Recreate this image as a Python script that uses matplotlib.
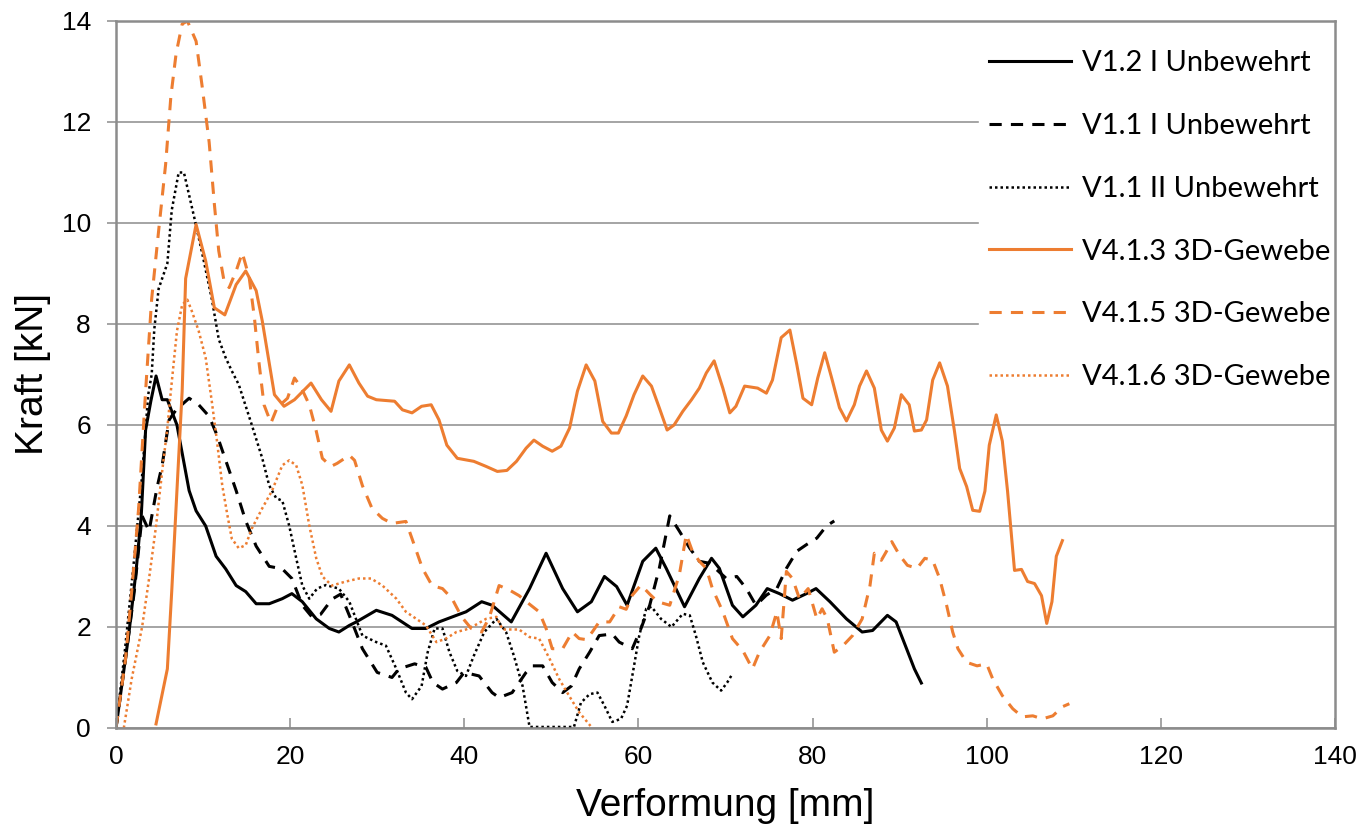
import matplotlib
matplotlib.use("Agg")
import matplotlib.pyplot as plt

# V1.2 I Unbewehrt (schwarz, durchgezogen)
v12_x = [0, 1.5, 2.3, 2.9, 3.4, 4.0, 4.6, 5.3, 5.9, 7.0, 8.4, 9.2, 10.3, 11.5, 12.6, 13.8, 14.9, 16.1,
         17.6, 19.1, 20.2, 21.4, 23.0, 24.5, 25.6, 26.8, 27.6, 29.9, 31.7, 34.0, 35.6, 37.1, 39.1, 40.2,
         42.0, 43.2, 45.4, 47.5, 49.4, 51.3, 53.0, 54.6, 56.1, 57.5, 58.7, 60.5, 62.0, 63.2, 65.3, 67.0,
         68.4, 69.3, 70.8, 72.0, 73.5, 74.8, 76.2, 77.7, 79.3, 80.4, 82.0, 83.9, 85.7, 86.9, 88.6, 89.6,
         90.8, 91.7, 92.5]
v12_y = [0, 1.9, 3.1, 4.2, 5.9, 6.47, 6.97, 6.5, 6.5, 6.0, 4.7, 4.3, 4.0, 3.4, 3.15, 2.82, 2.7, 2.46,
         2.46, 2.56, 2.66, 2.5, 2.16, 1.97, 1.9, 2.03, 2.1, 2.33, 2.23, 1.97, 1.97, 2.1, 2.23, 2.3,
         2.5, 2.43, 2.1, 2.76, 3.46, 2.76, 2.3, 2.5, 3.0, 2.8, 2.43, 3.3, 3.56, 3.16, 2.4, 2.96,
         3.36, 3.16, 2.43, 2.2, 2.43, 2.76, 2.66, 2.53, 2.66, 2.76, 2.5, 2.16, 1.9, 1.93, 2.23, 2.1,
         1.57, 1.17, 0.89]

# V1.1 I Unbewehrt (schwarz, gestrichelt)
v11_x = [0, 1.1, 2.1, 3.0, 3.8, 4.7, 5.3, 6.1, 6.9, 8.4, 9.5, 10.7, 11.6, 12.4, 13.8, 14.9, 16.1, 17.6,
         19.1, 20.2, 21.4, 22.5, 23.5, 24.8, 25.8, 27.1, 28.3, 30.0, 31.7, 32.5, 34.3, 35.6, 36.4, 37.5,
         39.1, 40.0, 41.7, 43.2, 44.0, 45.5, 47.1, 47.8, 49.0, 50.1, 51.3, 52.3, 53.2, 54.4, 55.5, 57.0,
         57.8, 59.3, 60.3, 61.3, 62.4, 63.6, 64.7, 65.9, 67.0, 68.2, 70.1, 71.3, 72.4, 73.5, 74.7, 75.9,
         77.0, 78.2, 79.3, 80.5, 81.6, 82.5]
v11_y = [0, 1.37, 2.7, 4.2, 3.9, 4.75, 5.2, 6.1, 6.3, 6.53, 6.4, 6.17, 5.8, 5.4, 4.7, 4.1, 3.6, 3.2,
         3.15, 2.96, 2.43, 2.2, 2.25, 2.55, 2.65, 2.1, 1.57, 1.1, 1.0, 1.17, 1.27, 1.2, 0.9, 0.77,
         0.9, 1.1, 1.03, 0.7, 0.6, 0.7, 1.1, 1.23, 1.23, 0.9, 0.7, 0.83, 1.17, 1.5, 1.83, 1.86,
         1.7, 1.57, 1.97, 2.43, 3.16, 4.2, 3.9, 3.56, 3.3, 3.26, 2.96, 3.0, 2.76, 2.43, 2.63, 2.76,
         3.16, 3.5, 3.63, 3.76, 4.0, 4.1]

# V1.1 II Unbewehrt (schwarz, gepunktet)
v11b_x = [0, 1.0, 2.0, 3.0, 3.7, 4.1, 4.4, 4.9, 5.9, 6.4, 7.2, 7.8, 9.0, 9.9, 11.0, 11.8, 12.6, 13.3,
          14.1, 15.6, 16.8, 17.6, 18.4, 19.1, 19.9, 20.7, 21.4, 22.2, 23.1, 24.1, 25.6, 26.8, 28.3, 29.9,
          31.0, 32.2, 33.3, 34.0, 35.1, 35.8, 36.6, 37.5, 38.3, 39.2, 40.2, 41.1, 42.3, 43.7, 44.8, 45.7,
          46.7, 47.5, 52.6, 53.4, 54.4, 55.3, 56.1, 57.0, 58.0, 58.7, 59.5, 60.1, 60.9, 61.5, 62.6, 63.8,
          65.1, 65.9, 66.6, 67.4, 68.5, 69.5, 70.2, 70.8]
v11b_y = [0, 1.5, 3.2, 5.0, 6.6, 7.0, 7.9, 8.7, 9.2, 10.25, 11.0, 11.0, 10.1, 9.4, 8.5, 7.7, 7.33, 7.07,
          6.8, 6.0, 5.34, 4.8, 4.55, 4.5, 4.0, 3.36, 2.82, 2.56, 2.76, 2.83, 2.76, 2.5, 1.83, 1.7,
          1.63, 1.17, 0.7, 0.57, 0.83, 1.5, 1.97, 1.97, 1.5, 1.13, 1.03, 1.43, 1.9, 2.16, 1.9, 1.43,
          0.83, 0.02, 0.02, 0.5, 0.67, 0.7, 0.44, 0.12, 0.18, 0.44, 1.23, 1.83, 2.36, 2.4, 2.16, 2.0,
          2.26, 2.23, 1.83, 1.3, 0.9, 0.74, 0.9, 1.07]

# V4.1.3 3D-Gewebe (orange, durchgezogen)
v413_x = [4.6, 5.9, 6.4, 7.0, 7.6, 8.0, 9.2, 10.3, 11.3, 12.5, 13.8, 14.9, 16.1, 16.8, 18.2, 19.3, 20.5,
          22.4, 23.6, 24.7, 25.6, 26.8, 27.9, 28.9, 29.9, 32.0, 32.9, 34.0, 35.1, 36.2, 37.1, 38.0, 39.2,
          41.1, 42.5, 43.8, 44.9, 46.0, 47.1, 48.0, 49.0, 50.1, 51.1, 52.1, 53.0, 54.0, 55.0, 55.9, 56.9,
          57.7, 58.6, 59.5, 60.5, 61.5, 62.4, 63.3, 64.1, 65.1, 66.1, 67.0, 67.8, 68.7, 69.7, 70.5, 71.2,
          72.2, 73.7, 74.7, 75.4, 76.4, 77.4, 78.2, 78.9, 79.9, 80.6, 81.4, 82.2, 83.1, 83.9, 84.8, 85.4,
          86.2, 87.1, 87.9, 88.6, 89.4, 90.2, 91.1, 91.7, 92.5, 93.1, 93.8, 94.6, 95.5, 96.3, 96.9, 97.7,
          98.4, 99.2, 99.8, 100.3, 101.1, 101.8, 102.4, 103.2, 104.0, 104.7, 105.5, 106.3, 106.9, 107.5,
          108.0, 108.7]
v413_y = [0.08, 1.17, 2.7, 4.7, 6.67, 8.9, 9.97, 9.25, 8.32, 8.18, 8.78, 9.05, 8.66, 8.06, 6.6, 6.37, 6.5,
          6.83, 6.5, 6.27, 6.87, 7.19, 6.83, 6.57, 6.5, 6.47, 6.3, 6.24, 6.37, 6.4, 6.1, 5.6, 5.34,
          5.28, 5.18, 5.08, 5.1, 5.28, 5.54, 5.7, 5.58, 5.48, 5.58, 5.94, 6.67, 7.19, 6.87, 6.07, 5.84,
          5.84, 6.18, 6.6, 6.97, 6.77, 6.34, 5.9, 6.0, 6.27, 6.5, 6.73, 7.03, 7.27, 6.73, 6.24, 6.37,
          6.77, 6.73, 6.63, 6.89, 7.73, 7.88, 7.19, 6.53, 6.4, 6.93, 7.43, 6.93, 6.34, 6.08, 6.4, 6.77,
          7.07, 6.73, 5.9, 5.68, 5.94, 6.6, 6.4, 5.88, 5.9, 6.1, 6.89, 7.23, 6.77, 5.88, 5.14, 4.78,
          4.31, 4.29, 4.69, 5.6, 6.2, 5.68, 4.69, 3.12, 3.14, 2.9, 2.86, 2.62, 2.07, 2.5,
          3.4, 3.71]

# V4.1.5 3D-Gewebe (orange, gestrichelt)
v415_x = [0, 1.1, 1.8, 2.6, 3.4, 4.1, 4.9, 5.7, 6.3, 6.9, 7.6, 8.2, 9.2, 9.9, 10.7, 11.3, 11.8, 12.4,
          13.0, 13.8, 14.5, 15.3, 15.9, 16.4, 17.0, 17.8, 18.5, 19.7, 20.5, 21.3, 22.2, 23.0, 23.7, 24.7,
          25.4, 26.8, 27.4, 28.3, 29.4, 30.6, 31.7, 33.3, 34.0, 35.2, 36.3, 37.5, 38.6, 39.7, 40.8, 42.0,
          42.9, 44.0, 45.2, 46.3, 47.5, 48.6, 49.4, 50.1, 51.3, 52.4, 53.2, 54.0, 54.7, 55.5, 56.7, 57.8,
          58.6, 59.3, 60.3, 61.3, 62.2, 63.6, 64.7, 65.5, 66.2, 67.0, 67.8, 68.5, 69.7, 70.8, 72.0, 73.1,
          73.9, 75.1, 75.9, 76.4, 77.0, 77.7, 78.5, 79.5, 80.5, 81.1, 81.7, 82.5, 83.5, 84.6, 85.7, 86.6,
          87.1, 87.9, 88.5, 89.1, 90.0, 90.9, 92.0, 92.9, 93.8, 94.6, 95.4, 96.1, 96.7, 97.7, 98.9, 100.0,
          100.7, 101.8, 103.0, 104.1, 105.3, 106.4, 107.6, 108.7, 109.5]
v415_y = [0, 1.37, 2.7, 4.35, 6.67, 8.5, 9.85, 11.16, 12.5, 13.35, 13.94, 14.0, 13.6, 12.7, 11.6, 10.37, 9.45, 8.86,
          8.72, 9.05, 9.41, 8.92, 8.12, 7.27, 6.4, 6.04, 6.34, 6.53, 6.93, 6.73, 6.4, 5.88, 5.34, 5.18,
          5.24, 5.4, 5.3, 4.8, 4.35, 4.15, 4.05, 4.09, 3.75, 3.16, 2.82, 2.76, 2.56, 2.2, 1.97, 1.9,
          2.2, 2.82, 2.73, 2.62, 2.45, 2.3, 1.97, 1.57, 1.57, 1.9, 1.77, 1.75, 1.9, 2.1, 2.1, 2.4,
          2.35, 2.63, 2.83, 2.65, 2.5, 2.43, 3.03, 3.83, 3.5, 3.3, 3.16, 2.76, 2.3, 1.77, 1.53, 1.17,
          1.5, 1.83, 2.3, 1.77, 3.1, 2.96, 2.56, 2.76, 2.16, 2.36, 2.16, 1.5, 1.63, 1.83, 2.16, 2.82,
          3.46, 3.32, 3.5, 3.69, 3.42, 3.22, 3.16, 3.36, 3.32, 2.96, 2.43, 1.9, 1.57, 1.3, 1.23, 1.27,
          0.97, 0.64, 0.38, 0.22, 0.24, 0.18, 0.24, 0.42, 0.48]

# V4.1.6 3D-Gewebe (orange, gepunktet)
v416_x = [0.9, 1.8, 3.0, 3.8, 4.6, 5.3, 5.9, 6.3, 7.0, 7.6, 8.2, 8.7, 9.5, 10.3, 11.0, 11.6, 12.2, 12.8,
          13.3, 14.1, 14.9, 15.6, 16.8, 17.9, 19.1, 19.9, 20.7, 21.4, 22.2, 23.0, 23.7, 24.8, 26.4, 27.9,
          29.3, 30.6, 32.2, 33.3, 34.5, 35.6, 36.8, 37.9, 39.1, 40.2, 41.4, 42.5, 43.7, 44.4, 45.2, 46.3,
          47.5, 48.6, 49.8, 50.9, 52.1, 53.2, 54.5]
v416_y = [0, 0.97, 2.0, 2.96, 4.0, 5.08, 5.94, 6.67, 7.86, 8.38, 8.48, 8.26, 7.86, 7.33, 6.47, 5.68, 4.81, 4.21,
          3.75, 3.56, 3.62, 3.95, 4.35, 4.69, 5.2, 5.3, 5.2, 4.81, 4.01, 3.36, 3.0, 2.82, 2.9, 2.96,
          2.96, 2.82, 2.56, 2.3, 2.16, 2.03, 1.7, 1.77, 1.9, 1.95, 2.05, 2.16, 2.2, 1.95, 1.95, 1.95,
          1.8, 1.77, 1.37, 0.97, 0.62, 0.31, 0.04]

x_ticks = [0, 20, 40, 60, 80, 100, 120, 140]
y_ticks = [0, 2, 4, 6, 8, 10, 12, 14]

orange = '#ED7D31'
grey = '#8C8C8C'

fig = plt.figure(figsize=(13.63, 8.33), dpi=100)
ax = fig.add_axes([0.0851, 0.1261, 0.8943, 0.8487])

ax.plot(v12_x, v12_y, color='black', lw=2.2, label='V1.2 I Unbewehrt')
ax.plot(v11_x, v11_y, color='black', lw=2.2, dashes=(4, 3), label='V1.1 I Unbewehrt')
ax.plot(v11b_x, v11b_y, color='black', lw=1.8, dashes=(1, 1.2), label='V1.1 II Unbewehrt')
ax.plot(v413_x, v413_y, color=orange, lw=2.2, label='V4.1.3 3D-Gewebe')
ax.plot(v415_x, v415_y, color=orange, lw=2.2, dashes=(4, 3), label='V4.1.5 3D-Gewebe')
ax.plot(v416_x, v416_y, color=orange, lw=1.8, dashes=(1, 1.2), label='V4.1.6 3D-Gewebe')

ax.set_xlim(0, 140)
ax.set_ylim(0, 14)
ax.set_xticks(x_ticks)
ax.set_yticks(y_ticks)
ax.yaxis.grid(True, color=grey, lw=1.1)
ax.set_axisbelow(True)
for sp in ax.spines.values():
    sp.set_color(grey)
    sp.set_linewidth(1.8)
    sp.set_zorder(10)  # keep frame above the white legend box

ax.tick_params(axis='y', direction='out', length=6.5, width=1.1, color=grey, pad=11.5,
               labelsize=19)
ax.tick_params(axis='x', direction='in', length=7, width=1.1, color=grey, pad=12,
               labelsize=19)
for lab in ax.get_xticklabels() + ax.get_yticklabels():
    lab.set_family('Liberation Sans')

ax.set_xlabel('Verformung [mm]', fontsize=28, family='Liberation Sans')
ax.set_ylabel('Kraft [kN]', fontsize=28, family='Liberation Sans')
ax.xaxis.set_label_coords(0.5, -0.085)
ax.yaxis.set_label_coords(-0.053, 0.5)

# legend without border, white box covering the grid
leg = ax.legend(loc='upper left', bbox_to_anchor=(0.7077, 0.973), borderaxespad=0,
                prop={'family': 'Lato', 'size': 21}, handlelength=2.8, handletextpad=0.4,
                labelspacing=1.26, borderpad=0.35, frameon=True, fancybox=False,
                edgecolor='white', facecolor='white', framealpha=1)

fig.savefig('out.png', dpi=100)
plt.close(fig)
